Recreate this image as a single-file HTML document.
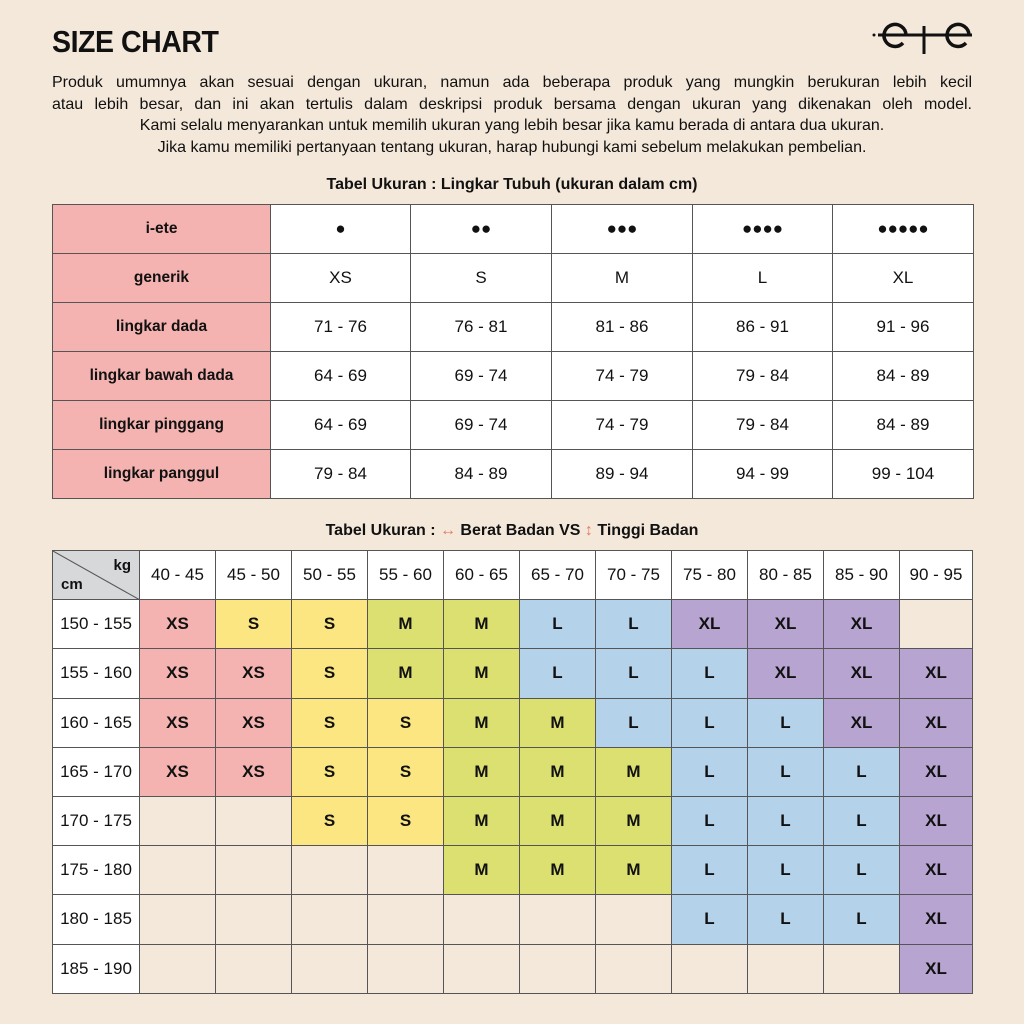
<!DOCTYPE html>
<html><head><meta charset="utf-8"><style>
body{margin:0;width:1024px;height:1024px;background:#f4e8da;font-family:"Liberation Sans",sans-serif;color:#111;position:relative;overflow:hidden}
.t{position:absolute}
h1{position:absolute;left:52px;top:24px;margin:0;font-size:31px;font-weight:bold;letter-spacing:-0.5px;transform:scaleX(0.92);transform-origin:left}
.p{position:absolute;left:52px;width:920px;top:72px;font-size:16px;line-height:21.5px}
.p div{text-align:center}
.p .j{text-align:justify;text-align-last:justify}
.cap{position:absolute;left:0;width:1024px;text-align:center;font-size:16px;font-weight:bold}
table{position:absolute;border-collapse:collapse;table-layout:fixed;left:52px}
td{border:1px solid #555;text-align:center;padding:0;font-size:17px;background:#fff}
#t1 td{height:48px}
#t1 td.h{background:#f4b3b0;font-size:15.5px;font-weight:bold}
#t2 td{height:48.2px}
#t2 td.b{background:#f4e8da}
.x{background:#f4b3b0!important;font-weight:bold}
.s{background:#fbe682!important;font-weight:bold}
.m{background:#dce070!important;font-weight:bold}
.l{background:#b4d2ea!important;font-weight:bold}
.xl{background:#b7a4d0!important;font-weight:bold}
</style></head><body>
<h1>SIZE CHART</h1>
<svg class="t" style="left:872px;top:20px" width="104" height="36" viewBox="0 0 104 36"><circle cx="2" cy="15" r="1.5" fill="#111"/><line x1="6" y1="15" x2="100" y2="15" stroke="#111" stroke-width="3"/><path d="M34 15a11 11 0 1 0-3 8" fill="none" stroke="#111" stroke-width="3.5"/><line x1="52" y1="6" x2="52" y2="34" stroke="#111" stroke-width="3"/><path d="M97 15a11 11 0 1 0-3 8" fill="none" stroke="#111" stroke-width="3.5"/></svg>
<div class="p"><div class="j">Produk umumnya akan sesuai dengan ukuran, namun ada beberapa produk yang mungkin berukuran lebih kecil</div><div class="j">atau lebih besar, dan ini akan tertulis dalam deskripsi produk bersama dengan ukuran yang dikenakan oleh model.</div><div>Kami selalu menyarankan untuk memilih ukuran yang lebih besar jika kamu berada di antara dua ukuran.</div><div>Jika kamu memiliki pertanyaan tentang ukuran, harap hubungi kami sebelum melakukan pembelian.</div></div>
<div class="cap" style="top:176px">Tabel Ukuran : Lingkar Tubuh (ukuran dalam cm)</div>
<table id="t1" style="top:204px;width:921px"><colgroup><col style="width:218px"><col style="width:140px"><col style="width:141px"><col style="width:141px"><col style="width:140px"><col style="width:141px"></colgroup>
<tr><td class="h">i-ete</td><td>●</td><td>●●</td><td>●●●</td><td>●●●●</td><td>●●●●●</td></tr>
<tr><td class="h">generik</td><td>XS</td><td>S</td><td>M</td><td>L</td><td>XL</td></tr>
<tr><td class="h">lingkar dada</td><td>71 - 76</td><td>76 - 81</td><td>81 - 86</td><td>86 - 91</td><td>91 - 96</td></tr>
<tr><td class="h">lingkar bawah dada</td><td>64 - 69</td><td>69 - 74</td><td>74 - 79</td><td>79 - 84</td><td>84 - 89</td></tr>
<tr><td class="h">lingkar pinggang</td><td>64 - 69</td><td>69 - 74</td><td>74 - 79</td><td>79 - 84</td><td>84 - 89</td></tr>
<tr><td class="h">lingkar panggul</td><td>79 - 84</td><td>84 - 89</td><td>89 - 94</td><td>94 - 99</td><td>99 - 104</td></tr>
</table>
<div class="cap" style="top:522px">Tabel Ukuran : <span style="color:#e57a64">↔</span> Berat Badan VS <span style="color:#e57a64">↕</span> Tinggi Badan</div>
<table id="t2" style="top:550px;width:920px"><colgroup><col style="width:87px"><col span="10" style="width:76px"><col style="width:73px"></colgroup>
<tr><td style="background:#d6d8d9;position:relative;font-size:15px;font-weight:bold"><svg style="position:absolute;left:0;top:0" width="87" height="49"><line x1="0" y1="0" x2="87" y2="49" stroke="#555"/></svg><span style="position:absolute;right:8px;top:6px">kg</span><span style="position:absolute;left:8px;bottom:6px">cm</span></td><td>40 - 45</td><td>45 - 50</td><td>50 - 55</td><td>55 - 60</td><td>60 - 65</td><td>65 - 70</td><td>70 - 75</td><td>75 - 80</td><td>80 - 85</td><td>85 - 90</td><td>90 - 95</td></tr>
<tr><td>150 - 155</td><td class="x">XS</td><td class="s">S</td><td class="s">S</td><td class="m">M</td><td class="m">M</td><td class="l">L</td><td class="l">L</td><td class="xl">XL</td><td class="xl">XL</td><td class="xl">XL</td><td class="b"></td></tr>
<tr><td>155 - 160</td><td class="x">XS</td><td class="x">XS</td><td class="s">S</td><td class="m">M</td><td class="m">M</td><td class="l">L</td><td class="l">L</td><td class="l">L</td><td class="xl">XL</td><td class="xl">XL</td><td class="xl">XL</td></tr>
<tr><td>160 - 165</td><td class="x">XS</td><td class="x">XS</td><td class="s">S</td><td class="s">S</td><td class="m">M</td><td class="m">M</td><td class="l">L</td><td class="l">L</td><td class="l">L</td><td class="xl">XL</td><td class="xl">XL</td></tr>
<tr><td>165 - 170</td><td class="x">XS</td><td class="x">XS</td><td class="s">S</td><td class="s">S</td><td class="m">M</td><td class="m">M</td><td class="m">M</td><td class="l">L</td><td class="l">L</td><td class="l">L</td><td class="xl">XL</td></tr>
<tr><td>170 - 175</td><td class="b"></td><td class="b"></td><td class="s">S</td><td class="s">S</td><td class="m">M</td><td class="m">M</td><td class="m">M</td><td class="l">L</td><td class="l">L</td><td class="l">L</td><td class="xl">XL</td></tr>
<tr><td>175 - 180</td><td class="b"></td><td class="b"></td><td class="b"></td><td class="b"></td><td class="m">M</td><td class="m">M</td><td class="m">M</td><td class="l">L</td><td class="l">L</td><td class="l">L</td><td class="xl">XL</td></tr>
<tr><td>180 - 185</td><td class="b"></td><td class="b"></td><td class="b"></td><td class="b"></td><td class="b"></td><td class="b"></td><td class="b"></td><td class="l">L</td><td class="l">L</td><td class="l">L</td><td class="xl">XL</td></tr>
<tr><td>185 - 190</td><td class="b"></td><td class="b"></td><td class="b"></td><td class="b"></td><td class="b"></td><td class="b"></td><td class="b"></td><td class="b"></td><td class="b"></td><td class="b"></td><td class="xl">XL</td></tr>
</table>
</body></html>
